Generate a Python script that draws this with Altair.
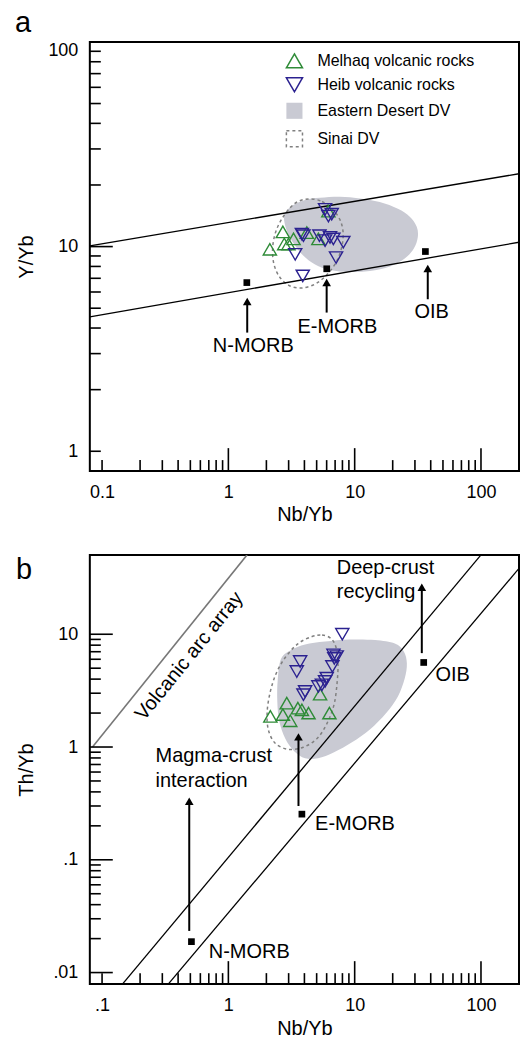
import altair as alt
import pandas as pd

FONT = "Liberation Sans"
GREEN = "#2e8b37"
BLUE = "#2b2190"
EDFILL = "#c9cad3"
SINAI = "#808080"
W, H = 430, 430

# ---------------- data: panel a (Y/Yb vs Nb/Yb) ----------------
melhaq_a_nb = [2.13, 2.70, 2.77, 2.99, 3.28, 4.18, 5.16, 6.19]
melhaq_a_y = [9.70, 11.8, 10.3, 10.3, 10.9, 11.7, 10.9, 14.9]
heib_a_nb = [5.83, 6.19, 6.58, 3.82, 3.93, 3.38, 5.26, 5.83, 6.38, 6.78, 8.13, 7.12, 3.88]
heib_a_y = [15.2, 14.1, 14.4, 11.5, 11.3, 9.17, 11.3, 10.7, 11.1, 10.9, 10.5, 8.84, 7.19]

ref_names = ["N-MORB", "E-MORB", "OIB"]
ref_a_nb = [1.40, 6.01, 36.3]
ref_a_y = [6.67, 7.79, 9.46]
arrow_a_x = [1.41, 6.0, 37.9]
arrow_a_from = [3.80, 4.76, 5.53]
arrow_a_head = [5.39, 6.67, 7.82]
label_a_x = [1.575, 7.29, 40.7]
label_a_y = [3.28, 4.03, 4.80]

line_a_x = [0.08, 200]
line_a_upper = [10.08, 22.7]
line_a_lower = [4.54, 10.5]

ed_a_x = [2.77, 3.20, 4.05, 5.32, 7.66, 11.0, 15.8, 22.0, 27.3, 31.0, 31.6, 29.4, 24.9, 19.0, 13.2, 9.18, 6.38, 4.86, 3.91, 3.26, 2.87]
ed_a_y = [14.3, 15.85, 16.9, 17.3, 17.5, 17.2, 16.5, 15.3, 14.0, 12.5, 11.1, 9.78, 8.74, 7.99, 7.59, 7.51, 7.68, 8.17, 9.04, 10.45, 12.2]
sinai_a_x = [4.44, 5.52, 6.74, 7.66, 8.09, 7.94, 7.25, 6.15, 4.95, 3.84, 3.03, 2.53, 2.29, 2.24, 2.35, 2.62, 3.09, 3.63]
sinai_a_y = [17.1, 16.6, 15.1, 13.5, 11.8, 10.1, 8.55, 7.39, 6.60, 6.28, 6.45, 7.14, 8.26, 9.78, 11.6, 13.5, 15.5, 16.7]

# ---------------- data: panel b (Th/Yb vs Nb/Yb) ----------------
melhaq_b_nb = [2.15, 2.70, 2.90, 3.09, 3.55, 3.82, 4.31, 5.32, 6.31]
melhaq_b_th = [1.87, 1.94, 2.45, 1.71, 2.21, 2.14, 2.00, 2.94, 2.00]
heib_b_nb = [7.98, 6.79, 7.21, 6.66, 6.90, 3.70, 3.48, 6.01, 5.83, 5.50, 5.16, 4.05, 3.93]
heib_b_th = [10.0, 6.56, 6.34, 5.18, 6.10, 5.73, 4.67, 4.08, 3.81, 3.56, 3.44, 3.11, 2.91]

ref_b_nb = [0.51, 3.82, 35.2]
ref_b_th = [0.0188, 0.254, 5.62]
arrow_b_x = [0.49, 3.59, 34.0]
arrow_b_from = [0.0234, 0.30, 6.8]
arrow_b_head = [0.331, 1.23, 26.1]
label_b_x = [0.70, 4.86, 43.6]
label_b_y = [0.0153, 0.207, 4.31]

annot_b_text = ["Magma-crust", "interaction", "Deep-crust", "recycling"]
annot_b_x = [0.265, 0.265, 7.21, 7.21]
annot_b_y = [0.828, 0.497, 38.4, 23.6]
arc_text = ["Volcanic arc array"]
arc_text_x = [0.49]
arc_text_y = [6.4]

line_b1_x = [0.145, 100]
line_b1_y = [0.0079, 50.5]
line_b2_x = [0.334, 200]
line_b2_y = [0.0079, 38.4]
arc_line_x = [0.084, 1.405]
arc_line_y = [1.0, 50.5]

ed_b_x = [2.62, 3.20, 4.05, 5.83, 9.18, 14.5, 20.8, 24.5, 25.9, 24.9, 22.0, 17.7, 13.2, 9.52, 6.87, 5.13, 4.05, 3.32, 2.82, 2.53, 2.44, 2.46]
ed_b_y = [6.10, 7.32, 8.11, 8.61, 8.98, 8.89, 8.27, 7.03, 5.51, 4.05, 2.81, 1.99, 1.43, 1.10, 0.898, 0.794, 0.794, 0.916, 1.19, 1.69, 2.54, 3.97]
sinai_b_x = [4.60, 5.52, 6.50, 7.12, 7.38, 7.25, 6.87, 6.04, 5.04, 3.91, 2.98, 2.35, 2.07, 2.03, 2.15, 2.39, 2.82, 3.57]
sinai_b_y = [9.54, 9.84, 9.16, 7.63, 5.51, 3.66, 2.39, 1.62, 1.19, 0.994, 0.954, 1.08, 1.43, 2.07, 3.11, 4.49, 6.22, 8.27]

# ---------------- ticks ----------------
x_tick_labels = [0.1, 1, 10, 100]
x_minor = [0.1, 0.2, 0.3, 0.4, 0.5, 0.6, 0.7, 0.8, 0.9, 2, 3, 4, 5, 6, 7, 8, 9,
           20, 30, 40, 50, 60, 70, 80, 90]
x_major = [1, 10, 100]
ya_tick_labels = [1, 10, 100]
ya_minor = [1, 2, 3, 4, 5, 6, 7, 8, 9, 20, 30, 40, 50, 60, 70, 80, 90]
ya_major = [10]
yb_tick_labels = [0.01, 0.1, 1, 10]
yb_minor = [0.02, 0.03, 0.04, 0.05, 0.06, 0.07, 0.08, 0.09,
            0.2, 0.3, 0.4, 0.5, 0.6, 0.7, 0.8, 0.9,
            2, 3, 4, 5, 6, 7, 8, 9]
yb_major = [0.01, 0.1, 1, 10]

series_domain = ["Melhaq volcanic rocks", "Heib volcanic rocks", "Eastern Desert DV", "Sinai DV"]

# ---------------- scales / axes ----------------
x_scale = alt.Scale(type="log", domain=[0.08, 200], nice=False)
ya_scale = alt.Scale(type="log", domain=[0.8, 100], nice=False)
yb_scale = alt.Scale(type="log", domain=[0.0079, 50.5], nice=False)

common_axis = dict(ticks=False, tickSize=0, domain=False, grid=False,
                   labelFontSize=18, labelFont=FONT, labelColor="black",
                   titleFontSize=20, titleFont=FONT, titleFontWeight="normal",
                   titleColor="black", titleBaseline="middle")


def x_axis(expr):
    return alt.Axis(values=x_tick_labels, labelExpr=expr, labelPadding=12, labelFlush=False,
                    title="Nb/Yb", titleY=44, **common_axis)


def y_axis(values, expr, title, flush):
    return alt.Axis(values=values, labelExpr=expr, labelPadding=12, labelFlush=flush,
                    title=title, titleX=-63, titleAngle=270, **common_axis)


Xa = alt.X("x:Q", scale=x_scale, axis=x_axis("datum.value < 0.5 ? '0.1' : format(datum.value, 'd')"))
Xb = alt.X("x:Q", scale=x_scale, axis=x_axis("datum.value < 0.5 ? '.1' : format(datum.value, 'd')"))
Ya = alt.Y("y:Q", scale=ya_scale, axis=y_axis(ya_tick_labels, "format(datum.value, 'd')", "Y/Yb", True))
Yb = alt.Y("y:Q", scale=yb_scale, axis=y_axis(
    yb_tick_labels,
    "datum.value < 0.05 ? '.01' : (datum.value < 0.5 ? '.1' : format(datum.value, 'd'))",
    "Th/Yb", False))

legend = alt.Legend(title=None, orient="none", legendX=196, legendY=10, padding=0,
                    labelFontSize=16, labelFont=FONT, labelColor="black", labelLimit=400,
                    symbolSize=260, symbolStrokeWidth=1.5, rowPadding=4, labelOffset=14)
shape_enc = alt.Shape("series:N", scale=alt.Scale(domain=series_domain,
                      range=["triangle-up", "triangle-down", "square", "square"]), legend=legend)
stroke_enc = alt.Stroke("series:N", scale=alt.Scale(domain=series_domain,
                        range=[GREEN, BLUE, "transparent", SINAI]), legend=legend)
fill_enc = alt.Fill("series:N", scale=alt.Scale(domain=series_domain,
                    range=["transparent", "transparent", EDFILL, "transparent"]), legend=legend)
dash_enc = alt.StrokeDash("series:N", scale=alt.Scale(domain=series_domain,
                          range=[[1, 0], [1, 0], [1, 0], [3, 3]]), legend=legend)


def poly_df(xs, ys, name):
    return pd.DataFrame({"x": xs, "y": ys, "i": list(range(len(xs))), "series": name})


def pts_df(xs, ys, name=None):
    d = pd.DataFrame({"x": xs, "y": ys})
    if name is not None:
        d["series"] = name
    return d


def lines_df(pairs):
    rows = []
    for k, (xs, ys) in enumerate(pairs):
        for j in range(len(xs)):
            rows.append({"x": xs[j], "y": ys[j], "line": k, "i": j})
    return pd.DataFrame(rows)


def tick_layers(X, Y, xmin, xmaj, ymin, ymaj):
    out = []
    out.append(alt.Chart(pd.DataFrame({"x": xmin})).mark_rule(color="black", strokeWidth=1.6)
               .encode(x=X, y=alt.value(H), y2=alt.value(H - 11)))
    out.append(alt.Chart(pd.DataFrame({"x": xmaj})).mark_rule(color="black", strokeWidth=1.6)
               .encode(x=X, y=alt.value(H), y2=alt.value(H - 23)))
    out.append(alt.Chart(pd.DataFrame({"y": ymin})).mark_rule(color="black", strokeWidth=1.6)
               .encode(y=Y, x=alt.value(0), x2=alt.value(11)))
    out.append(alt.Chart(pd.DataFrame({"y": ymaj})).mark_rule(color="black", strokeWidth=1.6)
               .encode(y=Y, x=alt.value(0), x2=alt.value(23)))
    return out


def arrows(X, Y, xs, y_from, y_head):
    d = pd.DataFrame({"x": xs, "y": y_from, "y2": y_head})
    shaft = alt.Chart(d).mark_rule(color="black", strokeWidth=2).encode(x=X, y=Y, y2=alt.Y2("y2:Q"))
    head = alt.Chart(pd.DataFrame({"x": xs, "y": y_head})).mark_point(
        shape="triangle-up", filled=True, color="black", size=75, opacity=1).encode(x=X, y=Y)
    return [shaft, head]


# ---------------- panel a ----------------
ed_a = alt.Chart(poly_df(ed_a_x, ed_a_y, "Eastern Desert DV")).mark_line(
    interpolate="cardinal-closed", clip=True, strokeWidth=0).encode(
    x=Xa, y=Ya, order="i:Q", fill=fill_enc)
sinai_a = alt.Chart(poly_df(sinai_a_x, sinai_a_y, "Sinai DV")).mark_line(
    interpolate="cardinal-closed", clip=True, strokeWidth=1.5).encode(
    x=Xa, y=Ya, order="i:Q", stroke=stroke_enc, strokeDash=dash_enc)
lines_a = alt.Chart(lines_df([(line_a_x, line_a_upper), (line_a_x, line_a_lower)])).mark_line(
    color="black", strokeWidth=1.3, clip=True).encode(x=Xa, y=Ya, detail="line:N", order="i:Q")
tri_a = alt.Chart(pd.concat([pts_df(melhaq_a_nb, melhaq_a_y, series_domain[0]),
                             pts_df(heib_a_nb, heib_a_y, series_domain[1])])).mark_point(
    filled=False, size=175, strokeWidth=1.4, opacity=1).encode(
    x=Xa, y=Ya, shape=shape_enc, stroke=stroke_enc)
sq_a = alt.Chart(pts_df(ref_a_nb, ref_a_y)).mark_square(color="black", size=45, opacity=1).encode(x=Xa, y=Ya)
txt_a = alt.Chart(pd.DataFrame({"x": label_a_x, "y": label_a_y, "t": ref_names})).mark_text(
    font=FONT, fontSize=20, align="center", baseline="middle", color="black").encode(x=Xa, y=Ya, text="t:N")

top = alt.layer(
    ed_a, sinai_a, lines_a, tri_a, sq_a,
    *arrows(Xa, Ya, arrow_a_x, arrow_a_from, arrow_a_head),
    txt_a,
    *tick_layers(Xa, Ya, x_minor, x_major, ya_minor, ya_major),
).properties(width=W, height=H,
             title=alt.TitleParams("a", anchor="start", frame="group", dx=-75, offset=9, dy=28,
                                   baseline="alphabetic", fontSize=29, font=FONT,
                                   fontWeight="normal", color="black"))

# ---------------- panel b ----------------
ed_b = alt.Chart(poly_df(ed_b_x, ed_b_y, "Eastern Desert DV")).mark_line(
    interpolate="cardinal-closed", clip=True, strokeWidth=0, fill=EDFILL).encode(
    x=Xb, y=Yb, order="i:Q")
sinai_b = alt.Chart(poly_df(sinai_b_x, sinai_b_y, "Sinai DV")).mark_line(
    interpolate="cardinal-closed", clip=True, strokeWidth=1.5, color=SINAI, strokeDash=[3, 3]).encode(
    x=Xb, y=Yb, order="i:Q")
lines_b = alt.Chart(lines_df([(line_b1_x, line_b1_y), (line_b2_x, line_b2_y)])).mark_line(
    color="black", strokeWidth=1.3, clip=True).encode(x=Xb, y=Yb, detail="line:N", order="i:Q")
arc_b = alt.Chart(lines_df([(arc_line_x, arc_line_y)])).mark_line(
    color="#777777", strokeWidth=1.6, clip=True).encode(x=Xb, y=Yb, order="i:Q")
green_b = alt.Chart(pts_df(melhaq_b_nb, melhaq_b_th)).mark_point(
    shape="triangle-up", filled=False, size=175, strokeWidth=1.4, opacity=1, color=GREEN).encode(x=Xb, y=Yb)
blue_b = alt.Chart(pts_df(heib_b_nb, heib_b_th)).mark_point(
    shape="triangle-down", filled=False, size=175, strokeWidth=1.4, opacity=1, color=BLUE).encode(x=Xb, y=Yb)
sq_b = alt.Chart(pts_df(ref_b_nb, ref_b_th)).mark_square(color="black", size=45, opacity=1).encode(x=Xb, y=Yb)
txt_b = alt.Chart(pd.DataFrame({"x": label_b_x + annot_b_x, "y": label_b_y + annot_b_y,
                                "t": ref_names + annot_b_text})).mark_text(
    font=FONT, fontSize=20, align="left", baseline="middle", color="black").encode(x=Xb, y=Yb, text="t:N")
arc_txt = alt.Chart(pd.DataFrame({"x": arc_text_x, "y": arc_text_y, "t": arc_text})).mark_text(
    font=FONT, fontSize=20, align="center", baseline="middle", color="black", angle=309).encode(
    x=Xb, y=Yb, text="t:N")

bottom = alt.layer(
    ed_b, sinai_b, lines_b, arc_b, green_b, blue_b, sq_b,
    *arrows(Xb, Yb, arrow_b_x, arrow_b_from, arrow_b_head),
    txt_b, arc_txt,
    *tick_layers(Xb, Yb, x_minor, x_major, yb_minor, yb_major),
).properties(width=W, height=H,
             title=alt.TitleParams("b", anchor="start", frame="group", dx=-74, offset=9, dy=62,
                                   baseline="alphabetic", fontSize=29, font=FONT,
                                   fontWeight="normal", color="black"))

chart = alt.vconcat(top, bottom, spacing=84, bounds="flush").properties(
    padding={"left": 14, "top": 7, "right": 0, "bottom": 0}
).configure(font=FONT).configure_view(stroke="black", strokeWidth=2)

chart.save("out.html", embed_options={"renderer": "svg", "actions": False})
